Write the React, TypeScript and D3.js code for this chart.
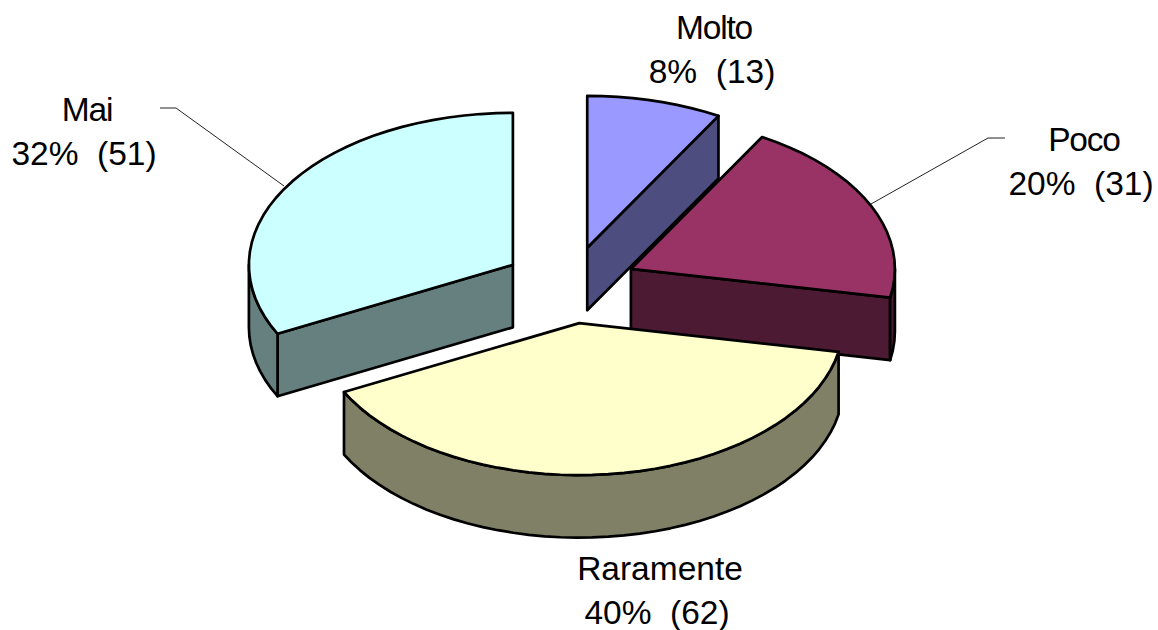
import React from "react";
import * as d3 from "d3";

const categories = ["Molto", "Poco", "Mai", "Raramente"];
const pieOrder = ["Molto", "Poco", "Raramente", "Mai"];
const values: Record<string, number> = { Molto: 13, Poco: 31, Raramente: 62, Mai: 51 };
const percents: Record<string, string> = { Molto: "8%", Poco: "20%", Raramente: "40%", Mai: "32%" };
const topColors: Record<string, string> = { Molto: "#9999FF", Poco: "#993366", Raramente: "#FFFFCC", Mai: "#CCFFFF" };
const wallColors: Record<string, string> = { Molto: "#4D4D80", Poco: "#4D1A33", Raramente: "#808066", Mai: "#668080" };
const labelPos: Record<string, [number, number, number, number]> = {
  Molto: [714, 39, 712, 83],
  Poco: [1084, 151, 1081, 195],
  Raramente: [660, 580, 657, 624],
  Mai: [87, 121, 84, 165],
};
const leaders: [number, number][][] = [
  [[160, 108], [176, 108], [284, 186]],
  [[1005, 138], [988, 138], [871, 204]],
];

const CX = 570, CY = 285, RX = 264, RY = 152, EX = 67, EY = 38.5, DEPTH = 62.5;
const STEP = (3.5 * Math.PI) / 180;

const pie = d3.pie<string>().value((d) => values[d]).sort(null);
const arcs = pie(pieOrder);
const byName = new Map(arcs.map((a) => [a.data, a]));
const line = d3.line();
const sx = d3.scaleLinear().domain([-1, 1]).range([-RX, RX]);
const sy = d3.scaleLinear().domain([-1, 1]).range([-RY, RY]);

function rimPoints(ax: number, ay: number, a0: number, a1: number, dy = 0): [number, number][] {
  const n = Math.max(1, Math.round((a1 - a0) / STEP));
  return d3.range(n + 1).map((i) => {
    const a = a0 + ((a1 - a0) * i) / n;
    return [ax + sx(Math.sin(a)), ay - sy(Math.cos(a)) + dy] as [number, number];
  });
}

function Slice({ name }: { name: string }) {
  const d = byName.get(name)!;
  const mid = (d.startAngle + d.endAngle) / 2;
  const ax = CX + EX * Math.sin(mid);
  const ay = CY - EY * Math.cos(mid);
  const rim = rimPoints(ax, ay, d.startAngle, d.endAngle);
  const stroke = { stroke: "#000", strokeWidth: 2.7, strokeLinejoin: "round" as const };
  const walls: React.ReactNode[] = [];
  const radial = (a: number, k: string) => {
    const [p] = rimPoints(ax, ay, a, a);
    walls.push(
      <path key={k} fill={wallColors[name]} {...stroke}
        d={line([[ax, ay], p, [p[0], p[1] + DEPTH], [ax, ay + DEPTH]]) + "Z"} />
    );
  };
  if (Math.sin(d.endAngle) > 0.01) radial(d.endAngle, "end");
  if (Math.sin(d.startAngle) < -0.01) radial(d.startAngle, "start");
  const lo = Math.max(d.startAngle, Math.PI / 2);
  const hi = Math.min(d.endAngle, (3 * Math.PI) / 2);
  if (hi > lo) {
    const top = rimPoints(ax, ay, lo, hi);
    const bottom = rimPoints(ax, ay, lo, hi, DEPTH).reverse();
    walls.push(<path key="outer" fill={wallColors[name]} {...stroke} d={line([...top, ...bottom]) + "Z"} />);
  }
  return (
    <g>
      {walls}
      <path fill={topColors[name]} {...stroke} d={line([[ax, ay], ...rim]) + "Z"} />
    </g>
  );
}

export default function App() {
  return (
    <svg width={1158} height={630} viewBox="0 0 1158 630"
      style={{ position: "absolute", left: 0, top: 0, display: "block", background: "#fff" }}>
      {leaders.map((pts, i) => (
        <path key={i} d={line(pts)!} fill="none" stroke="#222" strokeWidth={1} />
      ))}
      {["Molto", "Poco", "Mai", "Raramente"].map((n) => <Slice key={n} name={n} />)}
      {categories.map((n) => {
        const [x1, y1, x2, y2] = labelPos[n];
        const style = { fontFamily: "'Liberation Sans', Arial, sans-serif", fontSize: 33.5, fill: "#000" };
        return (
          <g key={n} textAnchor="middle" style={style}>
            <text x={x1} y={y1} letterSpacing={n === "Raramente" ? 0 : -1.2}>{n}</text>
            <text x={x2} y={y2} xmlSpace="preserve">{`${percents[n]}  (${values[n]})`}</text>
          </g>
        );
      })}
    </svg>
  );
}
